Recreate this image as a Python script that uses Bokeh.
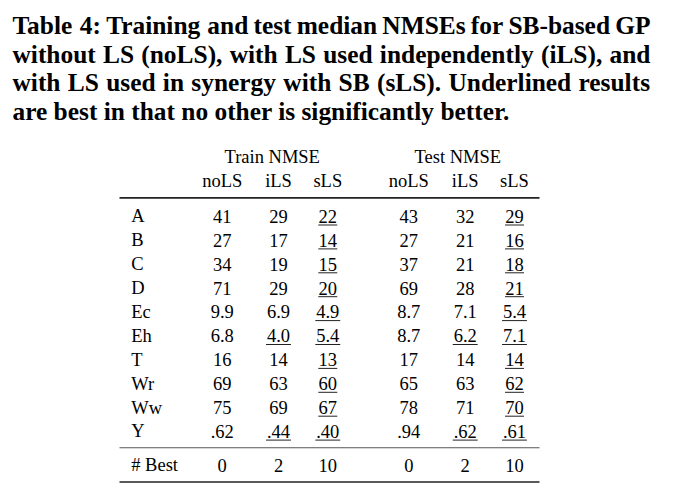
from bokeh.plotting import figure
from bokeh.models import Range1d
from bokeh.core.properties import value
from bokeh.embed import file_html
from bokeh.resources import INLINE

# ---------------- data ----------------
title_lines = [
    "Table 4: Training and test median NMSEs for SB-based GP",
    "without LS (noLS), with LS used independently (iLS), and",
    "with LS used in synergy with SB (sLS). Underlined results",
    "are best in that no other is significantly better.",
]
title_justified = [True, True, True, False]
groups = ["Train NMSE", "Test NMSE"]
methods = ["noLS", "iLS", "sLS"]
datasets = ["A", "B", "C", "D", "Ec", "Eh", "T", "Wr", "Ww", "Y"]

train_noLS = ["41", "27", "34", "71", "9.9", "6.8", "16", "69", "75", ".62"]
train_iLS = ["29", "17", "19", "29", "6.9", "4.0", "14", "63", "69", ".44"]
train_sLS = ["22", "14", "15", "20", "4.9", "5.4", "13", "60", "67", ".40"]
test_noLS = ["43", "27", "37", "69", "8.7", "8.7", "17", "65", "78", ".94"]
test_iLS = ["32", "21", "21", "28", "7.1", "6.2", "14", "63", "71", ".62"]
test_sLS = ["29", "16", "18", "21", "5.4", "7.1", "14", "62", "70", ".61"]

# underlined = best (no other significantly better)
train_noLS_best = [False] * 10
train_iLS_best = [False, False, False, False, False, True, False, False, False, True]
train_sLS_best = [True] * 10
test_noLS_best = [False] * 10
test_iLS_best = [False, False, False, False, False, True, False, False, False, True]
test_sLS_best = [True] * 10

best_label = "# Best"
best_counts = [0, 2, 10, 0, 2, 10]

# ---------------- layout ----------------
W, H = 675, 491
FONT = "Liberation Serif"
TFS = 18.5          # table font size (px)
TTL = 25.4          # title font size (px)
BASE_OFF = 0.28     # alphabetic-baseline correction (em)

p = figure(width=W, height=H, output_backend="svg", toolbar_location=None,
           x_range=Range1d(0, W), y_range=Range1d(H, 0),
           min_border=0, border_fill_color="white")
p.axis.visible = False
p.grid.visible = False
p.outline_line_color = None

# Times-Bold style advance widths (per 1000 em) for justification
BOLD_W = dict(zip("abcdefghijklmnopqrstuvwxyz",
                  [500, 556, 444, 556, 444, 333, 500, 556, 278, 333, 556, 278, 833,
                   556, 500, 556, 556, 444, 389, 333, 556, 500, 722, 500, 500, 444]))
BOLD_W.update({"A": 722, "B": 667, "C": 722, "D": 722, "E": 667, "F": 611, "G": 778,
               "H": 778, "I": 389, "L": 667, "M": 944, "N": 722, "P": 611, "S": 556,
               "T": 667, "U": 722, ":": 333, ".": 250, ",": 250, "(": 333, ")": 333,
               "-": 333, "4": 500, " ": 250})

def bold_width(s, size):
    return sum(BOLD_W.get(c, 500) for c in s) * size / 1000.0

title_x0, title_x1 = 12.0, 650.0
tx, ty, tt = [], [], []
for i, (line, just) in enumerate(zip(title_lines, title_justified)):
    base = 32.0 + 28.5 * i - BASE_OFF * TTL
    words = line.split(" ")
    if just and len(words) > 1:
        widths = [bold_width(w, TTL) for w in words]
        gap = (title_x1 - title_x0 - sum(widths)) / (len(words) - 1)
        x = title_x0
        for w, wd in zip(words, widths):
            tx.append(x); ty.append(base); tt.append(w)
            x += wd + gap
    else:
        tx.append(title_x0); ty.append(base); tt.append(line)
p.text(x=tx, y=ty, text=tt, text_font=value(FONT), text_font_size=f"{TTL}px",
       text_font_style="bold", text_color="black", text_baseline="alphabetic",
       text_align="left")

col_x = [221.7, 278.0, 327.3, 408.3, 464.7, 514.0]
group_x = [271.7, 457.3]
label_x = 130.7
row_y0, row_dy = 221.0, 23.9
toff = BASE_OFF * TFS
TS = f"{TFS}px"

def ttext(xs, ys, texts, align):
    p.text(x=xs, y=[y - toff for y in ys], text=texts, text_font=value(FONT),
           text_font_size=TS, text_color="black", text_baseline="alphabetic",
           text_align=align)

# headers
ttext(group_x, [161.7] * 2, groups, "center")
ttext(col_x, [185.7] * 6, methods * 2, "center")

# rules
rule_x0, rule_x1 = 119, 539
p.segment(x0=[rule_x0] * 2, x1=[rule_x1] * 2, y0=[197.3, 481.5], y1=[197.3, 481.5],
          line_color="#222222", line_width=1.7)
p.segment(x0=[rule_x0], x1=[rule_x1], y0=[447.3], y1=[447.3],
          line_color="#555555", line_width=1.1)

# row labels
row_y = [row_y0 + row_dy * i for i in range(len(datasets))]
ttext([label_x] * len(datasets), row_y, datasets, "left")

columns = [train_noLS, train_iLS, train_sLS, test_noLS, test_iLS, test_sLS]
bests = [train_noLS_best, train_iLS_best, train_sLS_best,
         test_noLS_best, test_iLS_best, test_sLS_best]

def num_width(s):
    return sum(0.5 * TFS if c.isdigit() else 0.32 * TFS for c in s)

ux0, ux1, uy = [], [], []
for cx, col, bcol in zip(col_x, columns, bests):
    ttext([cx] * len(col), row_y, col, "center")
    for v, b, y in zip(col, bcol, row_y):
        if b:
            w = num_width(v) + 0.5
            ux0.append(cx - w / 2)
            ux1.append(cx + w / 2)
            uy.append(y + 3.5)
p.segment(x0=ux0, x1=ux1, y0=uy, y1=uy, line_color="#222222", line_width=1.0)

# best counts
ttext([label_x], [470.0], [best_label], "left")
ttext(col_x, [470.0] * 6, [str(c) for c in best_counts], "center")

open("out.html", "w").write(file_html(p, INLINE))
